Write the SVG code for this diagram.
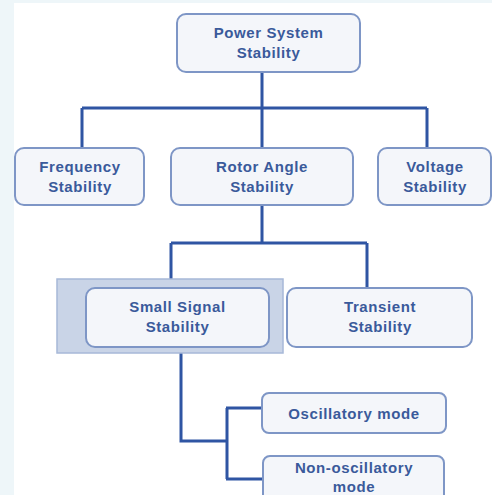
<svg xmlns="http://www.w3.org/2000/svg" width="492" height="495" viewBox="0 0 492 495">
<style>
.box{fill:#f4f6fa;stroke:#7e96c6;stroke-width:2}
.t{font-family:"Liberation Sans",Arial,sans-serif;font-weight:bold;font-size:15px;fill:#3a5a9b;text-anchor:middle;letter-spacing:0.6px}
.c{fill:none;stroke:#2f55a3;stroke-width:3;stroke-linejoin:miter}
</style>
<rect x="0" y="0" width="492" height="495" fill="#ffffff"/>
<rect x="0" y="0" width="14" height="495" fill="#eef6f9"/>
<rect x="0" y="0" width="492" height="3" fill="#eef6f9"/>
<g id="connectors">
<path class="c" d="M262 72 V108 M82 108 H427 M82 108 V148 M262 108 V148 M427 108 V148"/>
<path class="c" d="M262 205 V243 M171 243 H367 M171 243 V288 M367 243 V288"/>
<path class="c" d="M181 347 V441 H227 M227 408 V479 M226 408 H262 M226 479 H263"/>
</g>
<g id="highlight">
<rect x="57" y="279" width="226" height="74" fill="#c9d4e7" stroke="#a7b8d8" stroke-width="1.5"/>
</g>
<g id="power-system-stability">
<rect class="box" x="177" y="14" width="183" height="58" rx="9"/>
<text class="t" x="268.5" y="38">Power System</text>
<text class="t" x="268.5" y="58">Stability</text>
</g>
<g id="frequency-stability">
<rect class="box" x="15" y="148" width="129" height="57" rx="9"/>
<text class="t" x="80" y="172">Frequency</text>
<text class="t" x="80" y="192">Stability</text>
</g>
<g id="rotor-angle-stability">
<rect class="box" x="171" y="148" width="182" height="57" rx="9"/>
<text class="t" x="262" y="172">Rotor Angle</text>
<text class="t" x="262" y="192">Stability</text>
</g>
<g id="voltage-stability">
<rect class="box" x="378" y="148" width="113" height="57" rx="9"/>
<text class="t" x="435" y="172">Voltage</text>
<text class="t" x="435" y="192">Stability</text>
</g>
<g id="small-signal-stability">
<rect class="box" x="86" y="288" width="183" height="59" rx="9"/>
<text class="t" x="177.5" y="312">Small Signal</text>
<text class="t" x="177.5" y="332">Stability</text>
</g>
<g id="transient-stability">
<rect class="box" x="287" y="288" width="185" height="59" rx="9"/>
<text class="t" x="380" y="312">Transient</text>
<text class="t" x="380" y="332">Stability</text>
</g>
<g id="oscillatory-mode">
<rect class="box" x="262" y="393" width="184" height="40" rx="7"/>
<text class="t" x="354" y="419">Oscillatory mode</text>
</g>
<g id="non-oscillatory-mode">
<rect class="box" x="263" y="456" width="181" height="50" rx="7"/>
<text class="t" x="354" y="473">Non-oscillatory</text>
<text class="t" x="354" y="492">mode</text>
</g>
</svg>
